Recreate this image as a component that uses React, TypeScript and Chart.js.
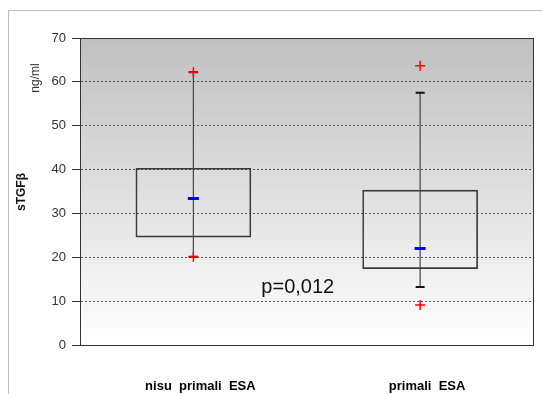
import React, { useEffect, useRef } from "react";
import { Chart, registerables } from "chart.js";

Chart.register(...registerables);

const categories = ["nisu  primali  ESA", "primali  ESA"];
const q1 = [24.6, 17.4];
const q3 = [40.3, 35.3];
const medians = [33.4, 22.0];
const whiskerLow = [20.1, 13.2];
const whiskerHigh = [62.2, 57.5];
const outlierLow = [20.1, 9.1];
const outlierHigh = [62.2, 63.7];
const yTicks = [0, 10, 20, 30, 40, 50, 60, 70];
const pText = "p=0,012";
const pValueY = 13.1;

const FONT = "Arial, 'Liberation Sans', sans-serif";

const bgPlugin = {
  id: "bgGrad",
  beforeDraw(chart: any) {
    const { ctx, chartArea } = chart;
    if (!chartArea) return;
    const g = ctx.createLinearGradient(0, chartArea.top, 0, chartArea.bottom);
    g.addColorStop(0, "#c0c0c0");
    g.addColorStop(1, "#ffffff");
    ctx.save();
    ctx.fillStyle = g;
    ctx.fillRect(chartArea.left, chartArea.top, chartArea.right - chartArea.left, chartArea.bottom - chartArea.top);
    ctx.restore();
  },
};

const framePlugin = {
  id: "frameText",
  afterDatasetsDraw(chart: any) {
    const { ctx, chartArea } = chart;
    ctx.save();
    ctx.strokeStyle = "#333";
    ctx.lineWidth = 1;
    ctx.strokeRect(
      Math.round(chartArea.left) + 0.5,
      Math.round(chartArea.top) + 0.5,
      Math.round(chartArea.right - chartArea.left) - 1,
      Math.round(chartArea.bottom - chartArea.top)
    );
    ctx.restore();
  },
  afterDraw(chart: any) {
    const { ctx } = chart;
    const xs = chart.scales.x;
    const ys = chart.scales.y;
    ctx.save();
    ctx.translate(22, 192);
    ctx.rotate(-Math.PI / 2);
    ctx.font = `bold 12px ${FONT}`;
    ctx.fillStyle = "#111";
    ctx.textAlign = "center";
    ctx.textBaseline = "middle";
    ctx.fillText("sTGF\u03b2", 0, 0);
    ctx.restore();
    ctx.save();
    ctx.translate(36, 78);
    ctx.rotate(-Math.PI / 2);
    ctx.font = `12px ${FONT}`;
    ctx.fillStyle = "#333";
    ctx.textAlign = "center";
    ctx.textBaseline = "middle";
    ctx.fillText("ng/ml", 0, 0);
    ctx.restore();
    ctx.save();
    const px = (xs.getPixelForValue(0) + xs.getPixelForValue(1)) / 2 - 9;
    const py = ys.getPixelForValue(pValueY);
    ctx.font = `20px ${FONT}`;
    ctx.fillStyle = "#111";
    ctx.textAlign = "center";
    ctx.textBaseline = "middle";
    ctx.fillText(pText, px, py);
    ctx.restore();
  },
};

export default function App() {
  const ref = useRef<HTMLCanvasElement>(null);
  useEffect(() => {
    if (!ref.current) return;
    const outliers = [
      ...categories.map((c, i) => ({ x: c, y: outlierHigh[i] })),
      ...categories.map((c, i) => ({ x: c, y: outlierLow[i] })),
    ];
    const caps = [
      ...categories.map((c, i) => ({ x: c, y: whiskerHigh[i] })),
      ...categories.map((c, i) => ({ x: c, y: whiskerLow[i] })),
    ];
    const whiskers = categories.map((c, i) => ({
      type: "line" as const,
      data: [
        { x: c, y: whiskerLow[i] },
        { x: c, y: whiskerHigh[i] },
      ],
      borderColor: "#444",
      borderWidth: 1.2,
      pointRadius: 0,
      fill: false,
    }));
    const chart = new Chart(ref.current, {
      type: "bar",
      data: {
        labels: categories,
        datasets: [
          {
            type: "line",
            data: outliers,
            showLine: false,
            pointStyle: "cross",
            pointRadius: 5,
            pointBorderWidth: 1.5,
            borderColor: "#ff0000",
            backgroundColor: "#ff0000",
          } as any,
          {
            type: "line",
            data: categories.map((c, i) => ({ x: c, y: medians[i] })),
            showLine: false,
            pointStyle: "line",
            pointRadius: 5.5,
            pointBorderWidth: 3,
            borderColor: "#0000ee",
            backgroundColor: "#0000ee",
          } as any,
          {
            type: "line",
            data: caps,
            showLine: false,
            pointStyle: "line",
            pointRadius: 4.5,
            pointBorderWidth: 2,
            borderColor: "#111",
            backgroundColor: "#111",
          } as any,
          ...(whiskers as any[]),
          {
            type: "bar",
            data: categories.map((_, i) => [q1[i], q3[i]]),
            backgroundColor: "rgba(0,0,0,0)",
            borderColor: "#3a3a3a",
            borderWidth: 1,
            borderSkipped: false,
            barThickness: 115,
          } as any,
        ],
      },
      options: {
        responsive: false,
        animation: false,
        events: [],
        layout: { padding: { left: 0, top: 38, right: 8, bottom: 0 } },
        plugins: { legend: { display: false }, tooltip: { enabled: false } },
        scales: {
          x: {
            type: "category",
            offset: true,
            grid: { display: false, drawTicks: false },
            border: { display: false },
            ticks: {
              color: "#000",
              font: { family: FONT, size: 13, weight: "bold" },
              padding: 34,
              labelOffset: 7,
              maxRotation: 0,
              autoSkip: false,
            },
            afterFit(scale: any) {
              scale.height = 49;
            },
          },
          y: {
            min: 0,
            max: 70,
            afterBuildTicks(scale: any) {
              scale.ticks = yTicks.map((v) => ({ value: v }));
            },
            grid: {
              color: "#555",
              lineWidth: 1,
              tickLength: 8,
              tickColor: "#333",
            },
            border: { display: true, color: "#333", dash: [2, 2] },
            ticks: {
              color: "#333",
              font: { family: FONT, size: 13 },
              padding: 6,
            },
            afterFit(scale: any) {
              scale.width = 80;
            },
          },
        },
      },
      plugins: [bgPlugin, framePlugin],
    });
    return () => chart.destroy();
  }, []);
  return (
    <div style={{ position: "absolute", left: 0, top: 0, width: 542, height: 394, overflow: "hidden", background: "#fff" }}>
      <div
        style={{
          position: "absolute",
          left: 8,
          top: 10,
          width: 560,
          height: 400,
          borderLeft: "1px solid #bdbdbd",
          borderTop: "1px solid #bdbdbd",
        }}
      />
      <canvas ref={ref} width={542} height={394} style={{ position: "absolute", left: 0, top: 0 }} />
    </div>
  );
}
